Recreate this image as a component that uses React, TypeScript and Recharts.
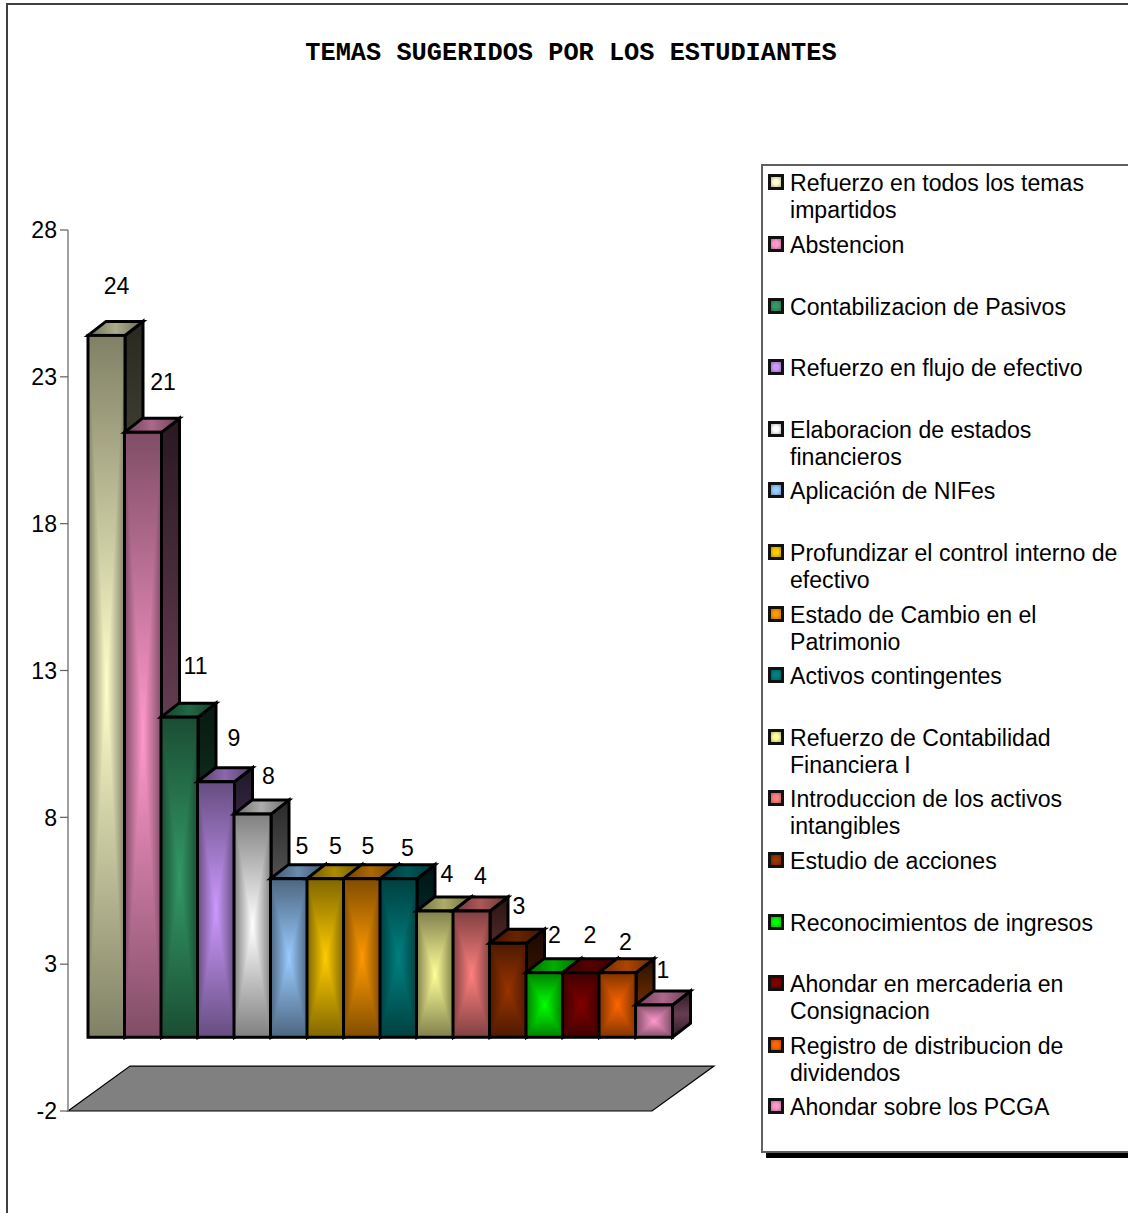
import React from 'react';
import { BarChart, Bar, XAxis, YAxis, Legend, LabelList, ReferenceArea } from 'recharts';

const CATEGORIES = [
  'Refuerzo en todos los temas impartidos',
  'Abstencion',
  'Contabilizacion de Pasivos',
  'Refuerzo en flujo de efectivo',
  'Elaboracion de estados financieros',
  'Aplicación de NIFes',
  'Profundizar el control interno de efectivo',
  'Estado de Cambio en el Patrimonio',
  'Activos contingentes',
  'Refuerzo de Contabilidad Financiera I',
  'Introduccion de los activos intangibles',
  'Estudio de acciones',
  'Reconocimientos de ingresos',
  'Ahondar en mercaderia en Consignacion',
  'Registro de distribucion de dividendos',
  'Ahondar sobre los PCGA',
];
const PERCENTS = [23.9, 20.6, 10.9, 8.7, 7.6, 5.4, 5.4, 5.4, 5.4, 4.3, 4.3, 3.2, 2.2, 2.2, 2.2, 1.1];
const COLORS = [
  '#ffffcc', '#ff99cc', '#339966', '#cc99ff', '#ffffff', '#99ccff', '#ffcc00', '#ff9900',
  '#008080', '#ffff99', '#ff8080', '#993300', '#00ff00', '#800000', '#ff6600', '#ff99cc',
];
const Y_TICKS = [-2, 3, 8, 13, 18, 23, 28];

// hand placement of the value labels, relative to the bar's front top centre
const LABEL_NUDGE_X = [10, 20, 16, 18, 16, 13, 10, 6, 9, 12, 9, 11, 10, 9, 8, 9];
const LABEL_NUDGE_Y = [-49, -50, -51, -44, -38, -33, -33, -33, -31, -37, -35, -37, -38, -38, -31, -35];

const chartData = CATEGORIES.map((name, i) => ({ name, percent: PERCENTS[i] }));

const FONT = '"Liberation Sans", Arial, sans-serif';
const FONT_SIZE = 23.1;

// front face sits in the middle of the floor, the side/top faces extrude behind it
const FRONT_DX = 20;
const FRONT_DY = -15;
const DEPTH_X = 18;
const DEPTH_Y = -14;

const shade = (hex: string, f: number) => {
  const n = parseInt(hex.slice(1), 16);
  const c = [(n >> 16) & 255, (n >> 8) & 255, n & 255].map((v) => Math.round(v * f));
  return `rgb(${c[0]},${c[1]},${c[2]})`;
};

const Grad = ({ id, x1, y1, x2, y2, from, to }: any) => (
  <linearGradient id={id} x1={x1} y1={y1} x2={x2} y2={y2}>
    <stop offset="0%" stopColor={from} />
    <stop offset="100%" stopColor={to} />
  </linearGradient>
);

// 3D column: the front is a rectangular path gradient built from four triangles
const Column = (props: any) => {
  const { x, y, width, height, index } = props;
  const color = COLORS[index];
  const edge = shade(color, 0.5);
  const left = x + FRONT_DX;
  const top = y + FRONT_DY;
  const right = left + width;
  const bottom = top + height;
  const cx = left + width / 2;
  const cy = top + height / 2;
  const k = `col${index}`;
  const corners = {
    tl: `${left},${top}`,
    tr: `${right},${top}`,
    bl: `${left},${bottom}`,
    br: `${right},${bottom}`,
    c: `${cx},${cy}`,
  };
  return (
    <g>
      <defs>
        <Grad id={`${k}t`} x1={0} y1={0} x2={0} y2={1} from={edge} to={color} />
        <Grad id={`${k}b`} x1={0} y1={1} x2={0} y2={0} from={edge} to={color} />
        <Grad id={`${k}l`} x1={0} y1={0} x2={1} y2={0} from={edge} to={color} />
        <Grad id={`${k}r`} x1={1} y1={0} x2={0} y2={0} from={edge} to={color} />
        <linearGradient id={`${k}side`} x1={0} y1={0} x2={0} y2={1}>
          <stop offset="0%" stopColor={shade(color, 0.16)} />
          <stop offset="50%" stopColor={shade(color, 0.4)} />
          <stop offset="100%" stopColor={shade(color, 0.18)} />
        </linearGradient>
        <linearGradient id={`${k}top`} x1={0} y1={0} x2={1} y2={0}>
          <stop offset="0%" stopColor={shade(color, 0.42)} />
          <stop offset="50%" stopColor={shade(color, 0.68)} />
          <stop offset="100%" stopColor={shade(color, 0.42)} />
        </linearGradient>
      </defs>
      <polygon
        points={`${right},${top} ${right + DEPTH_X},${top + DEPTH_Y} ${right + DEPTH_X},${bottom + DEPTH_Y} ${right},${bottom}`}
        fill={`url(#${k}side)`}
        stroke="#000"
        strokeWidth={3}
      />
      <polygon
        points={`${left},${top} ${left + DEPTH_X},${top + DEPTH_Y} ${right + DEPTH_X},${top + DEPTH_Y} ${right},${top}`}
        fill={`url(#${k}top)`}
        stroke="#000"
        strokeWidth={3}
      />
      <g shapeRendering="crispEdges">
        <polygon points={`${corners.tl} ${corners.tr} ${corners.c}`} fill={`url(#${k}t)`} />
        <polygon points={`${corners.bl} ${corners.br} ${corners.c}`} fill={`url(#${k}b)`} />
        <polygon points={`${corners.tl} ${corners.bl} ${corners.c}`} fill={`url(#${k}l)`} />
        <polygon points={`${corners.tr} ${corners.br} ${corners.c}`} fill={`url(#${k}r)`} />
      </g>
      <rect x={left} y={top} width={width} height={height} fill="none" stroke="#000" strokeWidth={3} />
    </g>
  );
};

const Floor = (props: any) => {
  const { x, y, width, height } = props;
  const skew = 62;
  return (
    <polygon
      points={`${x},${y + height} ${x + skew},${y} ${x + width + skew},${y} ${x + width},${y + height}`}
      fill="#808080"
      stroke="#000"
      strokeWidth={1.2}
    />
  );
};

const ValueLabel = (props: any) => {
  const { viewBox, value, index } = props;
  const cx = viewBox.x + viewBox.width / 2 + FRONT_DX + LABEL_NUDGE_X[index];
  const cy = viewBox.y + FRONT_DY + LABEL_NUDGE_Y[index];
  return (
    <text
      x={cx}
      y={cy}
      textAnchor="middle"
      dominantBaseline="central"
      fontFamily={FONT}
      fontSize={FONT_SIZE}
      fill="#000"
    >
      {Math.round(value)}
    </text>
  );
};

const LegendBox = () => (
  <div
    style={{
      position: 'relative',
      height: 985,
      background: '#fff',
      borderLeft: '2px solid #606060',
      borderTop: '2px solid #606060',
      borderBottom: '2px solid #606060',
      boxShadow: '5px 5px 0 #000',
      fontFamily: FONT,
      fontSize: FONT_SIZE,
      lineHeight: '27px',
      color: '#000',
    }}
  >
    {CATEGORIES.map((name, i) => (
      <div key={name} style={{ position: 'absolute', left: 27, top: 4.3 + i * 61.6, width: 340 }}>
        <span
          style={{
            position: 'absolute',
            left: -22,
            top: 4,
            width: 10,
            height: 10,
            border: '3px solid #111',
            background: `radial-gradient(circle, ${COLORS[i]} 35%, ${shade(COLORS[i], 0.7)} 100%)`,
          }}
        />
        {name}
      </div>
    ))}
  </div>
);

export default function App() {
  return (
    <div
      style={{
        position: 'absolute',
        left: 0,
        top: 0,
        width: 1128,
        height: 1213,
        overflow: 'hidden',
        background: '#fff',
      }}
    >
      <div
        style={{
          position: 'absolute',
          left: 6,
          top: 3,
          width: 1200,
          height: 1300,
          borderLeft: '2px solid #404040',
          borderTop: '2px solid #404040',
        }}
      />
      <div
        style={{
          position: 'absolute',
          left: 0,
          top: 39,
          width: 1142,
          textAlign: 'center',
          fontFamily: '"Liberation Mono", monospace',
          fontWeight: 700,
          fontSize: 25.3,
          lineHeight: '30px',
          whiteSpace: 'pre',
        }}
      >
        TEMAS SUGERIDOS POR LOS ESTUDIANTES
      </div>
      <BarChart
        width={1128}
        height={1213}
        data={chartData}
        margin={{ top: 230, right: 476, bottom: 102, left: 0 }}
        barCategoryGap={0}
        barGap={0}
        style={{ position: 'absolute', left: 0, top: 0 }}
      >
        <XAxis dataKey="name" hide />
        <YAxis
          width={68}
          domain={[-2, 28]}
          ticks={Y_TICKS}
          interval={0}
          tickSize={8}
          tickMargin={3}
          axisLine={{ stroke: '#808080', strokeWidth: 1.5 }}
          tickLine={{ stroke: '#606060', strokeWidth: 1.2 }}
          tick={{ fontFamily: FONT, fontSize: FONT_SIZE, fill: '#000' }}
        />
        <ReferenceArea y1={-2} y2={-0.47} shape={Floor} ifOverflow="visible" />
        <Bar dataKey="percent" shape={Column} isAnimationActive={false}>
          <LabelList dataKey="percent" content={ValueLabel} />
        </Bar>
        <Legend
          layout="horizontal"
          align="center"
          verticalAlign="middle"
          wrapperStyle={{ left: 761, top: 164, width: 380, height: 988 }}
          content={LegendBox}
        />
      </BarChart>
    </div>
  );
}
